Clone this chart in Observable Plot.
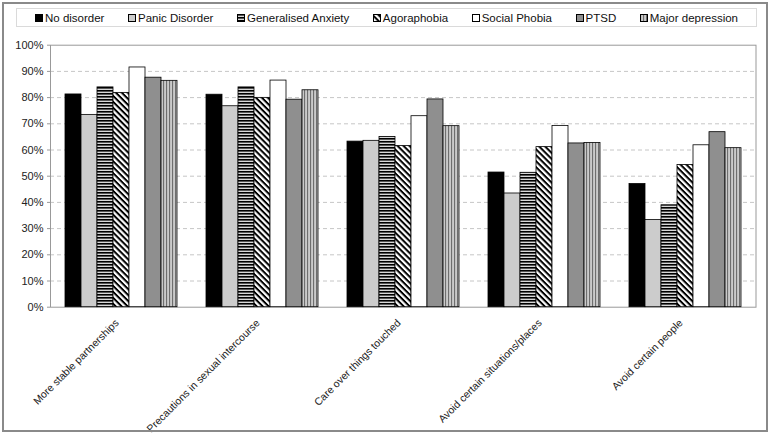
<!DOCTYPE html>
<html><head><meta charset="utf-8">
<script src="https://cdn.jsdelivr.net/npm/d3@7"></script>
<script src="https://cdn.jsdelivr.net/npm/@observablehq/plot@0.6"></script>
<style>
body{margin:0;background:#fff;font-family:"Liberation Sans",Arial,sans-serif;}
#wrap{position:relative;width:772px;height:436px;overflow:hidden;background:#fff;}
#frame{position:absolute;left:2px;top:2px;width:762px;height:426px;border:2px solid #8a8a8a;pointer-events:none;}
#legend{position:absolute;left:16px;top:8px;height:19px;border:1px solid #dadada;display:flex;justify-content:space-between;align-items:center;padding:0 18px;box-sizing:border-box;width:741px;font-size:11.5px;color:#111;}
#legend .it{display:flex;align-items:center;white-space:nowrap;}
#legend svg{margin-right:2px;}
.layer{position:absolute;left:0;top:30px;}
</style></head>
<body>
<svg width="0" height="0" style="position:absolute">
<defs>
<pattern id="pGAD" width="4" height="3" patternUnits="userSpaceOnUse"><rect width="4" height="3" fill="#d8d8d8"/><rect width="4" height="1.6" fill="#000"/></pattern>
<pattern id="pAgora" width="4.2" height="4.2" patternUnits="userSpaceOnUse" patternTransform="rotate(45)"><rect width="4.2" height="4.2" fill="#fff"/><rect width="4.2" height="2" fill="#000"/></pattern>
<pattern id="pMD" width="3" height="3" patternUnits="userSpaceOnUse"><rect width="3" height="3" fill="#cacaca"/><rect width="1.1" height="3" fill="#6e6e6e"/></pattern>
</defs>
</svg>
<div id="wrap">
  <div id="legend"></div>
  <div id="base" class="layer"></div>
  <div id="bars" class="layer"></div>
  <div id="frame"></div>
</div>
<script>
const categories = ["More stable partnerships","Precautions in sexual intercourse","Care over things touched","Avoid certain situations/places","Avoid certain people"];
const series = ["No disorder","Panic Disorder","Generalised Anxiety","Agoraphobia","Social Phobia","PTSD","Major depression"];
const noDisorder = [81.2, 81.1, 63.2, 51.4, 47.0];
const panicDisorder = [73.4, 76.7, 63.5, 43.4, 33.3];
const generalisedAnxiety = [83.9, 83.9, 65.0, 51.3, 38.9];
const agoraphobia = [81.8, 79.9, 61.5, 61.1, 54.3];
const socialPhobia = [91.5, 86.5, 72.9, 69.2, 61.8];
const ptsd = [87.6, 79.2, 79.3, 62.5, 66.8];
const majorDepression = [86.4, 82.8, 69.1, 62.7, 60.7];
const yTicks = [0, 10, 20, 30, 40, 50, 60, 70, 80, 90, 100];

const fills = ["#000000", "#cccccc", "url(#pGAD)", "url(#pAgora)", "#ffffff", "#8f8f8f", "url(#pMD)"];
const valuesBySeries = [noDisorder, panicDisorder, generalisedAnxiety, agoraphobia, socialPhobia, ptsd, majorDepression];
const rows = categories.flatMap((c, i) => series.map((s, j) => ({category: c, series: s, value: valuesBySeries[j][i]})));

// legend
const leg = document.getElementById("legend");
series.forEach((s, j) => {
  const it = document.createElement("div");
  it.className = "it";
  it.innerHTML = `<svg width="8" height="8"><rect x="0.5" y="0.5" width="7" height="7" fill="${fills[j]}" stroke="#000" stroke-width="1"/></svg><span>${s}</span>`;
  leg.appendChild(it);
});

const common = {
  width: 772,
  height: 406,
  marginTop: 14.7,
  marginBottom: 129.3,
  marginLeft: 50,
  marginRight: 16.5,
  style: {fontFamily: "'Liberation Sans', Arial, sans-serif", fontSize: "11px", color: "#222", background: "transparent"},
  y: {domain: [0, 100], axis: null}
};

// base layer: grid, frame, axes
const base = Plot.plot({
  ...common,
  x: {type: "band", domain: categories, padding: 0, axis: null},
  marks: [
    Plot.gridY(yTicks.filter(v => v > 0 && v < 100), {stroke: "#c6c6c6", strokeOpacity: 1, strokeDasharray: "4,3"}),
    Plot.frame({stroke: "#999", strokeWidth: 1}),
    Plot.axisY(yTicks, {tickFormat: d => d + "%", tickSize: 3, tickPadding: 4, stroke: "#999", fill: "#222"}),
    Plot.text(categories, {x: d => d, frameAnchor: "bottom", rotate: -45, textAnchor: "end", lineAnchor: "middle", dx: -4, dy: 14, fill: "#222", fontSize: 10.5})
  ]
});
document.getElementById("base").appendChild(base);

// bar layer
const bars = Plot.plot({
  ...common,
  fx: {domain: categories, paddingInner: 0.175, paddingOuter: 0.0875, axis: null, label: null},
  x: {domain: series, padding: 0, axis: null},
  color: {domain: series, range: fills},
  marks: [
    Plot.barY(rows, {fx: "category", x: "series", y: "value", fill: "series", stroke: "#000", strokeWidth: 0.8})
  ]
});
document.getElementById("bars").appendChild(bars);
</script>
</body></html>
